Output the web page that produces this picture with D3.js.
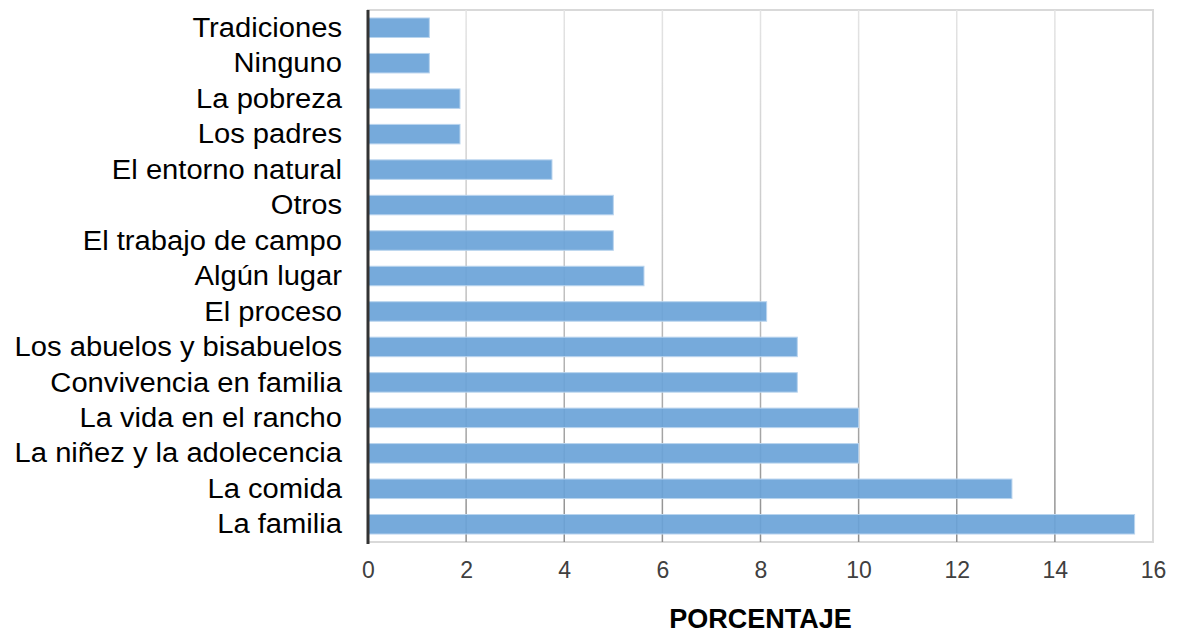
<!DOCTYPE html>
<html>
<head>
<meta charset="utf-8">
<script src="https://cdn.jsdelivr.net/npm/d3@7"></script>
<style>
  html, body { margin: 0; padding: 0; background: #fff; }
  svg { display: block; font-family: "Liberation Sans", Arial, sans-serif; }
</style>
</head>
<body>
<svg id="chart" width="1183" height="633"></svg>
<script>
// Categories, top to bottom
const categories = [
  "Tradiciones",
  "Ninguno",
  "La pobreza",
  "Los padres",
  "El entorno natural",
  "Otros",
  "El trabajo de campo",
  "Algún lugar",
  "El proceso",
  "Los abuelos y bisabuelos",
  "Convivencia en familia",
  "La vida en el rancho",
  "La niñez y la adolecencia",
  "La comida",
  "La familia"
];

// Percentage for each category
const values = [
  1.25, 1.25, 1.875, 1.875, 3.75, 5, 5, 5.625, 8.125,
  8.75, 8.75, 10, 10, 13.125, 15.625
];

const xTicks = [0, 2, 4, 6, 8, 10, 12, 14, 16];
const xTitle = "PORCENTAJE";

const svg = d3.select("#chart");
const plotLeft = 368, plotRight = 1153, plotTop = 10, plotBottom = 542;

const x = d3.scaleLinear().domain([0, 16]).range([plotLeft, plotRight]);
const y = d3.scaleBand().domain(categories).range([plotTop, plotBottom])
  .paddingInner(0.45).paddingOuter(0.225);

// Gridlines fade from light at the top to darker at the bottom
const defs = svg.append("defs");
const grad = defs.append("linearGradient")
  .attr("id", "gridFade")
  .attr("gradientUnits", "userSpaceOnUse")
  .attr("x1", 0).attr("y1", plotTop).attr("x2", 0).attr("y2", plotBottom);
grad.append("stop").attr("offset", "0%").attr("stop-color", "#e4e4e4");
grad.append("stop").attr("offset", "50%").attr("stop-color", "#c4c4c4");
grad.append("stop").attr("offset", "100%").attr("stop-color", "#8e8e8e");

// Plot frame
svg.append("rect")
  .attr("x", plotLeft).attr("y", plotTop)
  .attr("width", plotRight - plotLeft).attr("height", plotBottom - plotTop)
  .attr("fill", "none").attr("stroke", "#d9d9d9").attr("stroke-width", 2);

// Vertical gridlines
svg.append("g")
  .selectAll("line")
  .data(xTicks.filter(d => d > 0 && d < 16))
  .join("line")
  .attr("x1", d => x(d)).attr("x2", d => x(d))
  .attr("y1", plotTop).attr("y2", plotBottom)
  .attr("stroke", "url(#gridFade)")
  .attr("stroke-width", 1.5);

// Bars
svg.append("g")
  .selectAll("rect")
  .data(categories.map((c, i) => ({ c, v: values[i] })))
  .join("rect")
  .attr("x", x(0))
  .attr("y", d => y(d.c))
  .attr("width", d => x(d.v) - x(0))
  .attr("height", y.bandwidth())
  .attr("fill", "#6aa3d8")
  .attr("fill-opacity", 0.92)
  .attr("stroke", "#b9d4ee")
  .attr("stroke-width", 1);

// Left axis line
svg.append("line")
  .attr("x1", plotLeft).attr("x2", plotLeft)
  .attr("y1", plotTop).attr("y2", plotBottom + 2)
  .attr("stroke", "#333")
  .attr("stroke-width", 3);

// Category labels
const labels = svg.append("g");
categories.forEach(c => {
  labels.append("text")
    .attr("transform", `translate(342, ${y(c) + y.bandwidth() / 2}) scale(1.08, 1)`)
    .attr("text-anchor", "end")
    .attr("dominant-baseline", "central")
    .attr("font-size", 27)
    .attr("fill", "#000")
    .text(c);
});

// X tick labels
const xAxis = d3.axisBottom(x).tickValues(xTicks).tickSize(0).tickPadding(0);
const gx = svg.append("g")
  .attr("transform", `translate(0, 562)`)
  .call(xAxis);
gx.select(".domain").remove();
gx.selectAll("text")
  .attr("font-size", 23)
  .attr("font-family", "Liberation Sans, Arial, sans-serif")
  .attr("fill", "#404040")
  .attr("dy", "0.71em");

// Axis title
svg.append("text")
  .attr("x", (plotLeft + plotRight) / 2)
  .attr("y", 628)
  .attr("text-anchor", "middle")
  .attr("font-size", 27)
  .attr("font-weight", "bold")
  .attr("fill", "#000")
  .text(xTitle);
</script>
</body>
</html>
